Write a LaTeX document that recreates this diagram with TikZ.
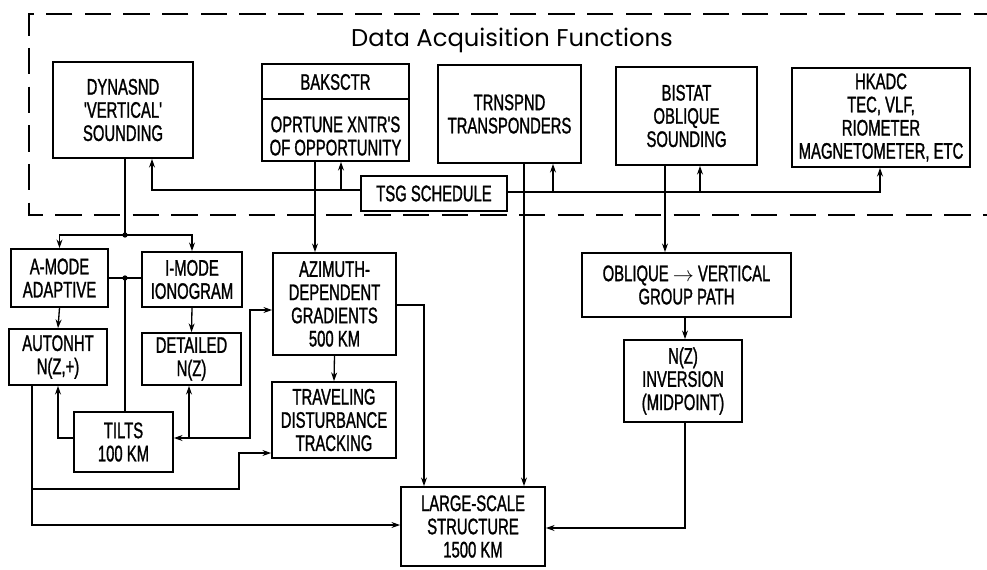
\documentclass[tikz,border=0pt]{standalone}
\usepackage{fontspec}
\usetikzlibrary{arrows.meta}
\newfontfamily\lbl{Liberation Sans}[FakeStretch=0.66, FakeBold=1.2]
\newfontfamily\ttl{Poppins}
\tikzset{
  >={Stealth[length=5pt,width=3.4pt]},
  box/.style={draw, line width=0.95pt, inner sep=0pt, align=center,
    font=\lbl\fontsize{12.8}{13.2}\selectfont},
  wire/.style={line width=0.75pt},
  jdot/.style={circle, fill, inner sep=0pt, minimum size=3pt},
}
\newcommand{\bx}[5]{\node[box, minimum width=#3*0.02cm, minimum height=#4*0.02cm] (#1) at (#2) {#5};}
\begin{document}
\begin{tikzpicture}[x=0.02cm, y=-0.02cm]
\useasboundingbox (0,0) rectangle (987,569);
% dashed frame
\draw[line width=0.8pt, dash pattern=on 15pt off 7pt] (1000,14) -- (29,14) -- (29,215) -- (1000,215);
\node[font=\ttl\fontsize{13.8}{15}\selectfont] (title) at (512,40) {Data Acquisition Functions};
% boxes
\bx{dyn}{123,110}{140}{96}{DYNASND\\'VERTICAL'\\SOUNDING}
\node[box, minimum width=147*0.02cm, minimum height=97*0.02cm] (bak) at (335.5,112.5) {};
\draw[line width=0.95pt] (bak.west |- 0,99) -- (bak.east |- 0,99);
\node[box, draw=none] (bakt) at (335.5,82) {BAKSCTR};
\node[box, draw=none] (bakb) at (335.5,136) {OPRTUNE XNTR'S\\OF OPPORTUNITY};
\bx{trn}{509.5,114}{143}{98}{TRNSPND\\TRANSPONDERS}
\bx{bis}{686.5,116}{141}{98}{BISTAT\\OBLIQUE\\SOUNDING}
\bx{hk}{881,117.5}{178}{99}{HKADC\\TEC, VLF,\\RIOMETER\\MAGNETOMETER, ETC}
\bx{tsg}{434,193.5}{146}{35}{TSG SCHEDULE}
\bx{amode}{59.5,278}{97}{58}{A-MODE\\ADAPTIVE}
\bx{imode}{192,279.5}{100}{55}{I-MODE\\IONOGRAM}
\bx{aut}{58,357}{98}{56}{AUTONHT\\N(Z,+)}
\bx{det}{191.5,359}{99}{52}{DETAILED\\N(Z)}
\bx{tilts}{123.5,442}{99}{60}{TILTS\\100 KM}
\bx{az}{334.5,304}{123}{102}{AZIMUTH-\\DEPENDENT\\GRADIENTS\\500 KM}
\bx{trav}{334,420}{124}{76}{TRAVELING\\DISTURBANCE\\TRACKING}
\bx{obl}{686.5,285}{209}{64}{OBLIQUE $\rightarrow$ VERTICAL\\GROUP PATH}
\bx{nz}{683,381}{118}{82}{N(Z)\\INVERSION\\(MIDPOINT)}
\bx{ls}{473,526.5}{144}{79}{LARGE-SCALE\\STRUCTURE\\1500 KM}
% TSG schedule distribution
\coordinate (tl) at (152,190);
\draw[wire,->] (tsg.west |- tl) -- (tl) -- (tl |- dyn.south);
\draw[wire,->] (341,190) -- (341,0 |- bak.south);
\coordinate (tr) at (880,192);
\draw[wire,->] (tsg.east |- tr) -- (tr) -- (tr |- hk.south);
\draw[wire,->] (553,192) -- (553,0 |- trn.south);
\draw[wire,->] (700,192) -- (700,0 |- bis.south);
% DYNASND outputs
\coordinate (j1) at (125,235);
\draw[wire] (dyn.south -| j1) -- (j1);
\draw[wire,->] (j1) -| (amode.north);
\draw[wire,->] (j1) -| (imode.north);
\node[jdot] at (j1) {};
\coordinate (j2) at (125,278);
\draw[wire] (amode.east) -- (amode.east -| imode.west);
\draw[wire] (j2) -- (j2 |- tilts.north);
\node[jdot] at (j2) {};
\draw[wire,->] (amode.south) -- (aut.north);
\draw[wire,->] (imode.south) -- (det.north);
% tilts connections
\draw[wire,->] (tilts.west |- 0,438) -| (aut.south);
\coordinate (b1) at (189,438);
\draw[wire,->] (b1) -- (tilts.east |- b1);
\draw[wire,->] (b1) -- (b1 |- det.south);
\draw[wire,->] (b1) -- (250,438) -- (250,310) -- (az.west |- 0,310);
% AUTONHT outputs
\coordinate (a1) at (32,489);
\draw[wire,->] (aut.south -| a1) -- (a1) -- (239,489) -- (239,453) -- (trav.west |- 0,453);
\draw[wire,->] (a1) -- (32,525) -- (ls.west |- 0,525);
% BAKSCTR / AZIMUTH
\draw[wire,->] (315,0 |- bak.south) -- (315,0 |- az.north);
\draw[wire,->] (az.south) -- (trav.north);
\draw[wire,->] (az.east |- 0,305) -- (424,305) -- (424,0 |- ls.north);
% TRNSPND
\draw[wire,->] (524,0 |- trn.south) -- (524,0 |- ls.north);
% BISTAT chain
\draw[wire,->] (665,0 |- bis.south) -- (665,0 |- obl.north);
\draw[wire,->] (685,0 |- obl.south) -- (685,0 |- nz.north);
\draw[wire,->] (685,0 |- nz.south) -- (685,528) -- (ls.east |- 0,528);
\end{tikzpicture}
\end{document}
